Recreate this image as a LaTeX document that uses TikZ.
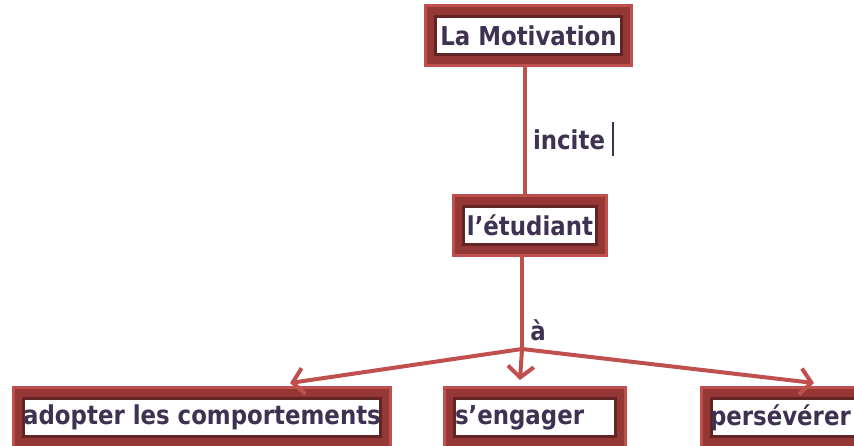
\documentclass[tikz,border=0pt]{standalone}
\usepackage{fontspec}
\setmainfont{DejaVu Sans}[BoldFeatures={FakeStretch=0.88}]
\usetikzlibrary{arrows.meta}
\definecolor{lightred}{HTML}{C0504D}
\definecolor{midred}{HTML}{953735}
\definecolor{deepred}{HTML}{632523}
\definecolor{txt}{HTML}{3F3151}
\tikzset{
  box/.style={fill=lightred, draw=none, inner sep=0pt, minimum height=63pt,
    font=\bfseries\fontsize{26}{28}\selectfont, text=txt,
    path picture={
      \fill[midred] ([shift={(3pt,-3pt)}]path picture bounding box.north west) rectangle ([shift={(-3pt,3pt)}]path picture bounding box.south east);
      \fill[deepred] ([shift={(10pt,-11pt)}]path picture bounding box.north west) rectangle ([shift={(-10pt,11pt)}]path picture bounding box.south east);
      \fill[white] ([shift={(13pt,-14pt)}]path picture bounding box.north west) rectangle ([shift={(-13pt,14pt)}]path picture bounding box.south east);
    }},
  conn/.style={draw=lightred, line width=4pt},
  arr/.style={conn, -{Straight Barb[length=11pt,width=26pt,line width=4pt]}},
  lbl/.style={font=\bfseries\fontsize{26}{28}\selectfont, text=txt, inner sep=0pt}
}
\begin{document}
\begin{tikzpicture}[x=1pt,y=-1pt]
\useasboundingbox (0,0) rectangle (854,446);
\node[box, minimum width=209pt] (mot) at (528.5,35.5) {La Motivation};
\node[box, minimum width=156pt] (etu) at (530,225.5) {l’étudiant};
\node[box, minimum width=380pt] (adopt) at (202,417) {adopter les comportements};
\node[box, minimum width=184pt, text width=160pt, align=left] (eng) at (535,417.5) {s’engager};
\node[box, minimum width=170pt, text width=150pt, align=left] (pers) at (785,417.5) {persévérer};
\coordinate (j) at (522,349);
\draw[conn] (mot.south -| 525,0) -- (etu.north -| 525,0);
\draw[conn] (etu.south -| 522,0) -- (j);
\draw[arr] (j) -- (290,383);
\draw[arr] (j) -- (520,380);
\draw[arr] (j) -- (814,383);
\node[lbl] (incite) at (569,140) {incite};
\draw[txt, line width=1.2pt] (613,122) -- (613,156);
\node[lbl] (a) at (538,330) {à};
\end{tikzpicture}
\end{document}
